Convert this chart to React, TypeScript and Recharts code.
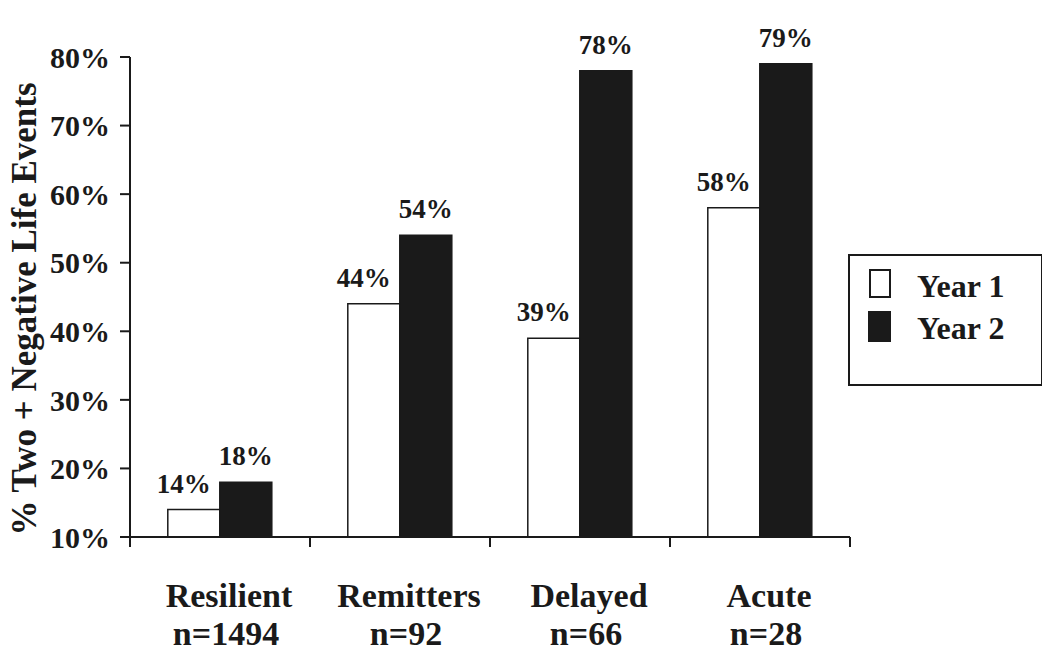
import { Bar, BarChart, LabelList, Legend, XAxis, YAxis } from 'recharts'

const categories = ['Resilient', 'Remitters', 'Delayed', 'Acute']
const sampleSizes = ['n=1494', 'n=92', 'n=66', 'n=28']
const year1 = [14, 44, 39, 58]
const year2 = [18, 54, 78, 79]
const yTicks = [10, 20, 30, 40, 50, 60, 70, 80]
// category edges (integers) carry tick marks, half steps carry the labels
const edgeTicks = [0, 0.5, 1, 1.5, 2, 2.5, 3, 3.5, 4]

const INK = '#1a1a1a'
const SERIF = '"Liberation Serif", "Times New Roman", serif'

const data = categories.map((name, i) => ({ name, pos: i + 0.5, y1: year1[i], y2: year2[i] }))

function EdgeTick({ x, y, payload }: any) {
  const v = payload.value as number
  if (Number.isInteger(v)) {
    return <line x1={x} x2={x} y1={y} y2={y + 10} stroke={INK} strokeWidth={2} />
  }
  const i = Math.floor(v)
  return (
    <g fontFamily={SERIF} fontWeight={700} fontSize={34} fill={INK} textAnchor="middle">
      <text x={x + 9} y={y + 70}>{categories[i]}</text>
      <text x={x + 6} y={y + 108}>{sampleSizes[i]}</text>
    </g>
  )
}

function barLabel(dx: number) {
  return ({ x, y, width, value }: any) => (
    <text
      x={x + width / 2 + dx}
      y={y - 17}
      textAnchor="middle"
      fontFamily={SERIF}
      fontWeight={700}
      fontSize={27}
      fill={INK}
    >
      {value}%
    </text>
  )
}

function YearLegend() {
  const text = { position: 'absolute' as const, left: 67, fontFamily: SERIF, fontWeight: 700, fontSize: 32, color: INK, lineHeight: '32px' }
  return (
    <div style={{ position: 'relative', width: 191, height: 128, border: `2px solid ${INK}`, background: '#fff' }}>
      <div style={{ position: 'absolute', left: 19, top: 13, width: 18, height: 25, border: `2px solid ${INK}`, background: '#fff' }} />
      <div style={text as any}>
        <span style={{ position: 'absolute', top: 14, whiteSpace: 'nowrap' }}>Year 1</span>
      </div>
      <div style={{ position: 'absolute', left: 18, top: 55, width: 23, height: 31, background: INK }} />
      <div style={text as any}>
        <span style={{ position: 'absolute', top: 56, whiteSpace: 'nowrap' }}>Year 2</span>
      </div>
    </div>
  )
}

export default function App() {
  return (
    <BarChart
      width={1034}
      height={650}
      data={data}
      margin={{ top: 49, right: 192, bottom: 0, left: 0 }}
      barCategoryGap="21%"
      barGap={0}
    >
      <XAxis xAxisId="cat" dataKey="name" hide height={0} />
      <XAxis
        xAxisId="edge"
        dataKey="pos"
        type="number"
        domain={[0, 4]}
        allowDataOverflow
        ticks={edgeTicks}
        interval={0}
        height={121}
        axisLine={{ stroke: INK, strokeWidth: 2 }}
        tickLine={false}
        tickSize={0}
        tickMargin={0}
        tick={<EdgeTick />}
      />
      <YAxis
        width={122}
        domain={[10, 80]}
        ticks={yTicks}
        interval={0}
        tickFormatter={(v) => `${v}%`}
        axisLine={{ stroke: INK, strokeWidth: 2 }}
        tickLine={{ stroke: INK, strokeWidth: 2 }}
        tickSize={10}
        tickMargin={10}
        tick={{ fontFamily: SERIF, fontWeight: 700, fontSize: 30, fill: INK }}
        label={{
          content: ({ viewBox }: any) => {
            const cx = viewBox.x + 16
            const cy = viewBox.y + viewBox.height / 2 + 12
            return (
              <text
                x={cx}
                y={cy}
                transform={`rotate(-90 ${cx} ${cy})`}
                textAnchor="middle"
                dominantBaseline="central"
                fontFamily={SERIF}
                fontWeight={700}
                fontSize={35}
                fill={INK}
              >
                % Two + Negative Life Events
              </text>
            )
          },
        }}
      />
      <Legend
        layout="vertical"
        align="center"
        verticalAlign="middle"
        wrapperStyle={{ left: 840, top: 246, width: 195 }}
        content={() => <YearLegend />}
      />
      <Bar xAxisId="cat" dataKey="y1" name="Year 1" fill="#fff" stroke={INK} strokeWidth={1.5} isAnimationActive={false}>
        <LabelList dataKey="y1" content={barLabel(-10)} />
      </Bar>
      <Bar xAxisId="cat" dataKey="y2" name="Year 2" fill={INK} stroke={INK} strokeWidth={1.5} isAnimationActive={false}>
        <LabelList dataKey="y2" content={barLabel(0)} />
      </Bar>
    </BarChart>
  )
}
